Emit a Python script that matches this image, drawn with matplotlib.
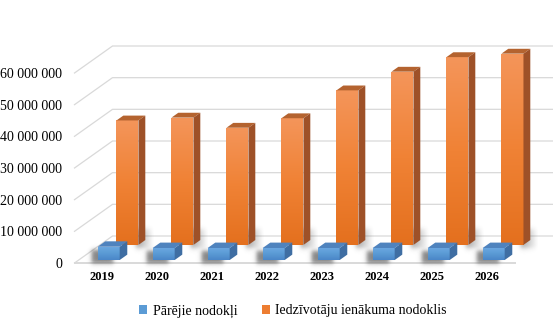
import numpy as np
import matplotlib.pyplot as plt
from matplotlib.patches import Polygon, Rectangle, Patch
from matplotlib.colors import LinearSegmentedColormap
from matplotlib.ticker import FuncFormatter, MultipleLocator

years = ['2019', '2020', '2021', '2022', '2023', '2024', '2025', '2026']
other_taxes = [4.2e6, 3.8e6, 3.8e6, 3.8e6, 3.8e6, 3.8e6, 3.8e6, 3.8e6]
income_tax = [39.3e6, 40.2e6, 37.0e6, 40.0e6, 48.8e6, 54.7e6, 59.3e6, 60.4e6]
series_names = ['Pārējie nodokļi', 'Iedzīvotāju ienākuma nodoklis']

plt.rcParams['font.family'] = ['Liberation Serif', 'DejaVu Serif']

W, H = 553, 325
fig = plt.figure(figsize=(W / 100, H / 100), dpi=100)

# front plane of the 3-D box, in pixels
left_px, right_px, bottom_px, top_px = 74.5, 514.5, 263, 73
ax = fig.add_axes([left_px / W, 1 - bottom_px / H,
                   (right_px - left_px) / W, (bottom_px - top_px) / H])
n = len(years)
ymax = 60e6

px_x = n / (right_px - left_px)      # data units per pixel
px_y = ymax / (bottom_px - top_px)
DX, DY = 38 * px_x, 27 * px_y        # depth vector, front edge -> back wall


def shift(x, y, d):
    return x + d * DX, y + d * DY


grid_c = '#D9D9D9'
for v in np.arange(0, ymax + 1, 10e6):
    x0, y0 = shift(-0.5, v, 0)
    x1, y1 = shift(-0.5, v, 1)
    x2, _ = shift(n - 0.5, v, 1)
    ax.plot([x0, x1, x2], [y0, y1, y1], color=grid_c, lw=0.9,
            clip_on=False, zorder=1)
ax.plot([-0.5, n - 0.5], [0, 0], color=grid_c, lw=1.4, clip_on=False, zorder=1)


def soft_shadow(x0, x1, y0, y1, sigma_px, alpha, z, fade=None):
    """Blurred dark rectangle (x/y in data units)."""
    sx, sy = sigma_px * px_x, sigma_px * px_y
    xs = np.linspace(x0 - 3 * sx, x1 + 3 * sx, 90)
    ys = np.linspace(y1 + 3 * sy, y0 - 3 * sy, 90)
    X, Y = np.meshgrid(xs, ys)
    s = lambda t: 0.5 * (1 + np.tanh(t))
    a = s((X - x0) / sx) * s((x1 - X) / sx) * s((Y - y0) / sy) * s((y1 - Y) / sy)
    if fade is not None:
        a = a * np.clip(1 - (X - x0) / (x1 - x0), 0, 1) ** fade
    rgba = np.zeros(X.shape + (4,))
    rgba[..., :3] = 0.2
    rgba[..., 3] = a * alpha
    im = ax.imshow(rgba, extent=(xs[0], xs[-1], ys[-1], ys[0]), aspect='auto',
                   origin='upper', zorder=z, interpolation='bilinear')
    im.set_clip_on(False)


def draw_box(xc, value, d0, d1, width, cmap, top_c, side_c, z):
    xl, xr = xc - width / 2, xc + width / 2
    bx, by = shift(xl, 0, d0)
    front = Rectangle((bx, by), width, value, facecolor='none',
                      edgecolor='none', clip_on=False, zorder=z)
    ax.add_patch(front)
    grad = np.linspace(1, 0, 100).reshape(-1, 1)
    im = ax.imshow(grad, cmap=cmap, extent=(bx, bx + width, by, by + value),
                   aspect='auto', origin='upper', zorder=z,
                   interpolation='bilinear', vmin=0, vmax=1)
    im.set_clip_path(front)
    top = [shift(xl, value, d0), shift(xr, value, d0),
           shift(xr, value, d1), shift(xl, value, d1)]
    ax.add_patch(Polygon(top, closed=True, facecolor=top_c, edgecolor='none',
                         clip_on=False, zorder=z))
    side = [shift(xr, 0, d0), shift(xr, 0, d1),
            shift(xr, value, d1), shift(xr, value, d0)]
    ax.add_patch(Polygon(side, closed=True, facecolor=side_c, edgecolor='none',
                         clip_on=False, zorder=z))


orange_cmap = LinearSegmentedColormap.from_list('o', ['#E4701E', '#F08235', '#F4955A'])
blue_cmap = LinearSegmentedColormap.from_list('b', ['#4A86C8', '#5B9BD5', '#6DA9E2'])

width = 22 * px_x
d_or = (0.67, 0.85)
d_bl = (0.11, 0.31)
blue_dx = 2.5 * px_x

# back row: income tax
for i, v in enumerate(income_tax):
    xr = i + width / 2
    sx0, sy0 = shift(xr, 0, d_or[0])
    soft_shadow(sx0 - 2 * px_x, sx0 + 16 * px_x, sy0 - 3 * px_y, sy0 + 16 * px_y,
                3, 0.5, 2, fade=1.2)
    draw_box(i, v, d_or[0], d_or[1], width, orange_cmap, '#B4632F', '#9E5128', 3)

# front row: other taxes
for i, v in enumerate(other_taxes):
    xc = i + blue_dx
    fx, fy = shift(xc - width / 2, 0, d_bl[0])
    soft_shadow(fx - 6 * px_x, fx + width - 6 * px_x, fy - 3 * px_y,
                fy + v - 3 * px_y, 2.5, 0.6, 4)
    draw_box(xc, v, d_bl[0], d_bl[1], width, blue_cmap, '#4F83BE', '#3F6EA3', 5)

ax.set_xlim(-0.5, n - 0.5)
ax.set_ylim(0, ymax)
ax.set_xticks(range(n))
ax.set_xticklabels(years, fontweight='bold', fontsize=9,
                   family=['Liberation Serif', 'DejaVu Serif'])
ax.yaxis.set_major_locator(MultipleLocator(10e6))
ax.yaxis.set_major_formatter(FuncFormatter(lambda v, p: f'{int(v):,}'.replace(',', ' ')))
ax.tick_params(axis='y', length=0, pad=9, labelsize=10)
ax.tick_params(axis='x', length=0, pad=6)
for s in ax.spines.values():
    s.set_visible(False)
ax.patch.set_alpha(0)

handles = [Patch(facecolor='#5B9BD5'), Patch(facecolor='#ED7D31')]
fig.legend(handles, series_names, loc='center', bbox_to_anchor=(0.53, 0.043),
           ncol=2, frameon=False, handlelength=0.55, handleheight=0.55,
           handletextpad=0.4, columnspacing=1.8,
           prop={'family': ['Liberation Serif', 'DejaVu Serif'], 'size': 10})

fig.savefig('out.png', dpi=100)
